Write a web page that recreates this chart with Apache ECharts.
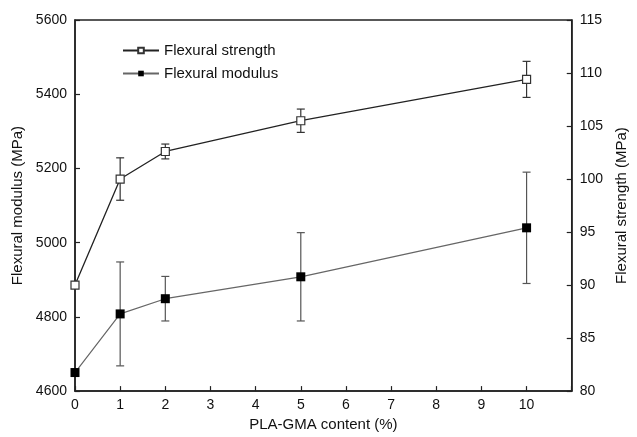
<!DOCTYPE html>
<html>
<head>
<meta charset="utf-8">
<script src="https://cdn.jsdelivr.net/npm/echarts@6/dist/echarts.min.js"></script>
<style>
  html, body { margin: 0; padding: 0; background: #fff; }
  #chart { width: 637px; height: 437px; }
</style>
</head>
<body>
<div id="chart"></div>
<script>
// PLA-GMA content (%)
let content = [0, 1, 2, 5, 10]
let xTicks = [0, 1, 2, 3, 4, 5, 6, 7, 8, 9, 10]

// flexural strength (MPa), right axis
let strength = [90.0, 100.0, 102.6, 105.5, 109.4]
let strengthErr = [0, 2.0, 0.7, 1.1, 1.7]

// flexural modulus (MPa), left axis
let modulus = [4650, 4808, 4849, 4908, 5040]
let modulusErr = [0, 140, 60, 119, 150]

let font = 'Liberation Sans, Arial, sans-serif'

function pairs(xs, ys) {
    return xs.map((x, i) => [x, ys[i]])
}

function errData(xs, ys, es) {
    return xs.map((x, i) => [x, ys[i] - es[i], ys[i] + es[i]]).filter((d, i) => es[i] > 0)
}

function errBars(color) {
    return function (params, api) {
        let lo = api.coord([api.value(0), api.value(1)])
        let hi = api.coord([api.value(0), api.value(2)])
        let w = 4
        let style = { stroke: color, lineWidth: 1.2 }
        return {
            type: 'group',
            children: [
                { type: 'line', shape: { x1: lo[0], y1: lo[1], x2: hi[0], y2: hi[1] }, style },
                { type: 'line', shape: { x1: lo[0] - w, y1: lo[1], x2: lo[0] + w, y2: lo[1] }, style },
                { type: 'line', shape: { x1: hi[0] - w, y1: hi[1], x2: hi[0] + w, y2: hi[1] }, style }
            ]
        }
    }
}

let chart = echarts.init(document.getElementById('chart'))

let axisText = { color: '#111', fontFamily: font, fontSize: 14 }
let nameText = { color: '#111', fontFamily: font, fontSize: 15 }

chart.setOption({
    animation: false,
    textStyle: { fontFamily: font },
    grid: {
        left: 75, right: 58, top: 20, bottom: 42,
        show: true, borderColor: '#222', borderWidth: 1.5
    },
    legend: {
        orient: 'vertical',
        left: 117, top: 38,
        itemWidth: 36, itemHeight: 7, itemGap: 8,
        textStyle: { color: '#111', fontFamily: font, fontSize: 15 },
        data: ['Flexural strength', 'Flexural modulus']
    },
    xAxis: {
        type: 'value',
        min: 0, max: 11, interval: 1,
        name: 'PLA-GMA content (%)',
        nameLocation: 'middle', nameGap: 24,
        nameTextStyle: nameText,
        axisLine: { lineStyle: { color: '#222', width: 1.5 } },
        axisTick: { inside: true, length: 5, lineStyle: { color: '#222', width: 1.2 } },
        axisLabel: Object.assign({
            margin: 7,
            formatter: v => xTicks.indexOf(v) >= 0 ? String(v) : ''
        }, axisText),
        splitLine: { show: false }
    },
    yAxis: [{
        type: 'value',
        min: 4600, max: 5600, interval: 200,
        name: 'Flexural modulus (MPa)',
        nameLocation: 'middle', nameGap: 47, nameRotate: 90,
        nameTextStyle: nameText,
        axisLine: { show: true, lineStyle: { color: '#222', width: 1.5 } },
        axisTick: { show: true, inside: true, length: 5, lineStyle: { color: '#222', width: 1.2 } },
        axisLabel: Object.assign({ margin: 8, formatter: v => String(v) }, axisText),
        splitLine: { show: false }
    }, {
        type: 'value',
        position: 'right',
        min: 80, max: 115, interval: 5,
        name: 'Flexural strength (MPa)',
        nameLocation: 'middle', nameGap: 40, nameRotate: 90,
        nameTextStyle: nameText,
        axisLine: { show: true, lineStyle: { color: '#222', width: 1.5 } },
        axisTick: { show: true, inside: true, length: 5, lineStyle: { color: '#222', width: 1.2 } },
        axisLabel: Object.assign({ margin: 8, formatter: v => String(v) }, axisText),
        splitLine: { show: false }
    }],
    series: [{
        name: 'Flexural strength',
        type: 'line',
        yAxisIndex: 1,
        data: pairs(content, strength),
        symbol: 'rect',
        symbolSize: 8,
        lineStyle: { color: '#222', width: 1.3 },
        itemStyle: { color: '#fff', borderColor: '#333', borderWidth: 1.2 },
        z: 3
    }, {
        name: 'Flexural modulus',
        type: 'line',
        yAxisIndex: 0,
        data: pairs(content, modulus),
        symbol: 'rect',
        symbolSize: 9,
        lineStyle: { color: '#666', width: 1.2 },
        itemStyle: { color: '#000', borderColor: '#000', borderWidth: 0 },
        z: 3
    }, {
        type: 'custom',
        yAxisIndex: 1,
        renderItem: errBars('#333'),
        encode: { x: 0, y: [1, 2] },
        data: errData(content, strength, strengthErr),
        silent: true,
        z: 2
    }, {
        type: 'custom',
        yAxisIndex: 0,
        renderItem: errBars('#555'),
        encode: { x: 0, y: [1, 2] },
        data: errData(content, modulus, modulusErr),
        silent: true,
        z: 2
    }]
})
</script>
</body>
</html>
